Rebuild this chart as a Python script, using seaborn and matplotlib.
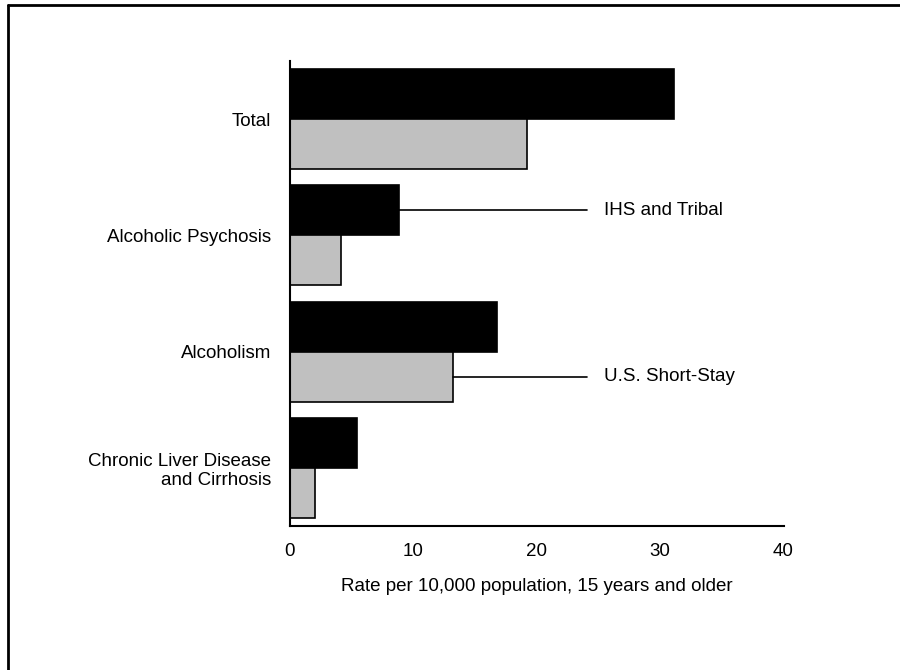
import matplotlib
matplotlib.use("Agg")
import matplotlib.pyplot as plt
from matplotlib.lines import Line2D
import pandas as pd
import seaborn as sns

# Hospital discharge rates by diagnosis
categories = ["Total", "Alcoholic Psychosis", "Alcoholism",
              "Chronic Liver Disease\nand Cirrhosis"]
ihs_tribal = [31.1, 8.9, 16.8, 5.5]
us_short_stay = [19.2, 4.2, 13.2, 2.1]
series_names = ["IHS and Tribal", "U.S. Short-Stay"]
x_ticks = [0, 10, 20, 30, 40]
x_label = "Rate per 10,000 population, 15 years and older"

df = pd.DataFrame({
    "category": categories * 2,
    "rate": ihs_tribal + us_short_stay,
    "series": [series_names[0]] * len(categories) + [series_names[1]] * len(categories),
})

sns.set_style("white")
plt.rcParams["font.family"] = ["Liberation Sans", "DejaVu Sans"]
plt.rcParams["text.color"] = "black"
plt.rcParams["axes.labelcolor"] = "black"
plt.rcParams["xtick.color"] = "black"
plt.rcParams["ytick.color"] = "black"

FS = 13.5

fig = plt.figure(figsize=(9, 6.7), dpi=100)
ax = fig.add_axes([0.3217, 0.2149, 0.8706 - 0.3217, 0.909 - 0.2149])

sns.barplot(data=df, y="category", x="rate", hue="series", orient="h",
            order=categories, hue_order=series_names,
            palette=["#000000", "#c0c0c0"], width=0.86, gap=0,
            edgecolor="black", linewidth=1.2, saturation=1,
            legend=False, ax=ax)

ax.set_xlim(0, 40)
ax.set_ylim(3.5, -0.5)
ax.set_xticks(x_ticks)
ax.set_xticklabels([str(t) for t in x_ticks], fontsize=FS)
ax.set_yticks(range(len(categories)))
ax.set_yticklabels(categories, fontsize=FS)
ax.set_xlabel(x_label, fontsize=FS, labelpad=13)
ax.set_ylabel("")

for side in ["top", "right"]:
    ax.spines[side].set_visible(False)
for side in ["left", "bottom"]:
    ax.spines[side].set_linewidth(1.5)
    ax.spines[side].set_color("black")
ax.tick_params(axis="x", length=5, width=1.5, color="black", pad=7)
ax.tick_params(axis="y", length=0, pad=13)
ax.grid(False)

# Leader lines naming each series
half = 0.86 / 4
leader_end = 24.1
label_x = 25.5
ax.plot([ihs_tribal[1], leader_end], [1 - half, 1 - half], color="black", lw=1.2)
ax.text(label_x, 1 - half, series_names[0], va="center", ha="left", fontsize=FS)
ax.plot([us_short_stay[2], leader_end], [2 + half, 2 + half], color="black", lw=1.2)
ax.text(label_x, 2 + half, series_names[1], va="center", ha="left", fontsize=FS)

# Page frame (left and top edges)
fx, fy = 7.5 / 900, 1 - 5 / 670
fig.add_artist(Line2D([fx, fx], [0, fy], transform=fig.transFigure, color="black", lw=2))
fig.add_artist(Line2D([fx, 1], [fy, fy], transform=fig.transFigure, color="black", lw=2))

fig.savefig("out.png", dpi=100)
